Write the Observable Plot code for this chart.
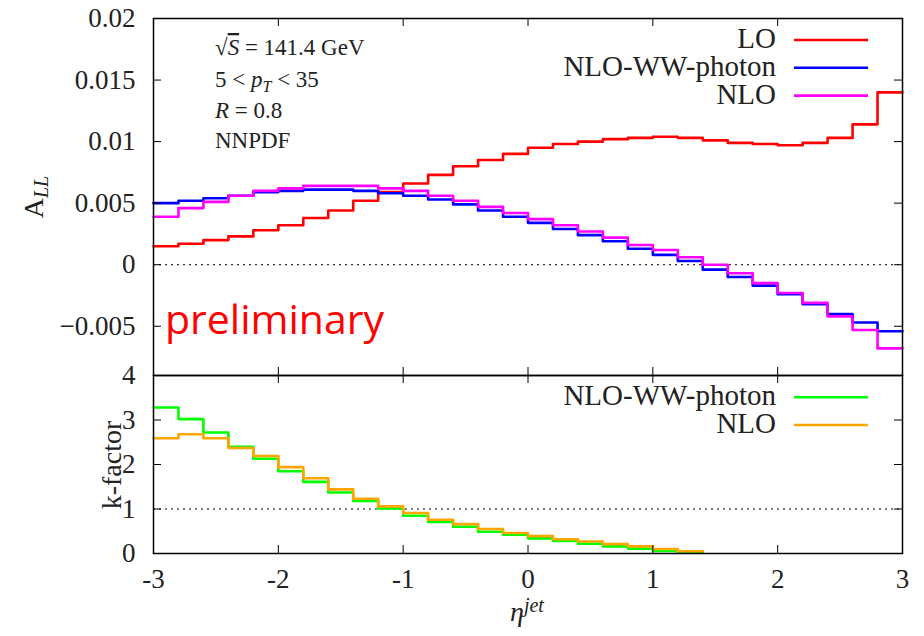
<!DOCTYPE html>
<html><head><meta charset="utf-8">
<script src="https://cdn.jsdelivr.net/npm/d3@7"></script>
<script src="https://cdn.jsdelivr.net/npm/@observablehq/plot@0.6"></script>
<style>
body{margin:0;background:#fff;}
#chart{position:relative;width:924px;height:636px;font-family:"Liberation Serif",serif;}
#chart svg{position:absolute;left:0;overflow:visible;}
</style></head><body><div id="chart"></div>
<script>
// bin edges in eta^jet
const binEdges = [-3,-2.8,-2.6,-2.4,-2.2,-2,-1.8,-1.6,-1.4,-1.2,-1,-0.8,-0.6,-0.4,-0.2,0,0.2,0.4,0.6,0.8,1,1.2,1.4,1.6,1.8,2,2.2,2.4,2.6,2.8,3];
// A_LL per bin
const allLO = [0.0015,0.0017,0.0020,0.0023,0.0028,0.0032,0.0038,0.0044,0.0052,0.0059,0.0066,0.0073,0.0080,0.0085,0.0090,0.0095,0.0098,0.0100,0.0102,0.0103,0.0104,0.0103,0.0101,0.0099,0.0098,0.0097,0.0099,0.0103,0.0114,0.0140];
const allNLOWW = [0.0050,0.0052,0.0054,0.0056,0.0059,0.0060,0.0061,0.0061,0.0060,0.0058,0.0056,0.0053,0.0049,0.0044,0.0039,0.0034,0.0029,0.0024,0.0019,0.0013,0.0008,0.0003,-0.0004,-0.0010,-0.0017,-0.0024,-0.0032,-0.0040,-0.0047,-0.0054];
const allNLO = [0.0039,0.0046,0.0051,0.0056,0.0060,0.0062,0.0064,0.0064,0.0064,0.0062,0.0060,0.0056,0.0052,0.0047,0.0042,0.0037,0.0032,0.0027,0.0022,0.0016,0.0012,0.0006,0.0000,-0.0007,-0.0015,-0.0023,-0.0031,-0.0042,-0.0053,-0.0068];
// k-factor per bin (bins up to eta = 1.4)
const kNLOWW = [3.28,3.02,2.72,2.40,2.13,1.85,1.61,1.37,1.18,1.01,0.85,0.71,0.60,0.49,0.42,0.34,0.28,0.22,0.16,0.11,0.06,0.02];
const kNLO = [2.59,2.68,2.59,2.37,2.19,1.94,1.69,1.44,1.23,1.06,0.91,0.76,0.66,0.55,0.46,0.39,0.32,0.27,0.21,0.16,0.10,0.05];
// ticks
const xTicks = [-3,-2,-1,0,1,2,3];
const yTicksTop = [-0.005,0,0.005,0.01,0.015,0.02];
const yTicksBottom = [0,1,2,3,4];
const topLegend = ["LO","NLO-WW-photon","NLO"];
const bottomLegend = ["NLO-WW-photon","NLO"];

function steps(edges, vals){
  const pts = vals.map((v,i)=>({x:edges[i], y:v}));
  pts.push({x:edges[vals.length], y:vals[vals.length-1]});
  return pts;
}
const W=924, ML=153, MR=22;
const PW=W-ML-MR;
const SERIF = "'Liberation Serif', serif";
const fmtTop = d => d===0 ? "0" : (d<0?"\u2212":"") + Math.abs(d);
const fmtX = d => (d<0?"-":"") + Math.abs(d);
const fmtInt = d => String(d);
const style = {fontFamily:SERIF, fontSize:"27px", background:"transparent", overflow:"visible"};
const chart = document.getElementById("chart");

// ---------- top panel ----------
const tH=376, tMT=18, tMB=1, tPH=tH-tMT-tMB;
const topPlot = Plot.plot({
  width:W, height:tH, marginLeft:ML, marginRight:MR, marginTop:tMT, marginBottom:tMB,
  x:{domain:[-3,3], label:null, axis:null}, y:{domain:[-0.009,0.02], label:null},
  style,
  marks:[
    Plot.ruleY([0],{stroke:"#000",strokeWidth:1,strokeDasharray:"2,4"}),
    Plot.line(steps(binEdges,allLO),{x:"x",y:"y",stroke:"#ff0000",strokeWidth:2.6,curve:"step-after"}),
    Plot.line(steps(binEdges,allNLOWW),{x:"x",y:"y",stroke:"#0000ff",strokeWidth:2.6,curve:"step-after"}),
    Plot.line(steps(binEdges,allNLO),{x:"x",y:"y",stroke:"#ff00ff",strokeWidth:2.6,curve:"step-after"}),
    Plot.tickY(yTicksTop,{y:d=>d, insetRight:PW-8, stroke:"#000"}),
    Plot.tickY(yTicksTop,{y:d=>d, insetLeft:PW-8, stroke:"#000"}),
    Plot.tickX(xTicks,{x:d=>d, insetBottom:tPH-8, stroke:"#000"}),
    Plot.tickX(xTicks,{x:d=>d, insetTop:tPH-8, stroke:"#000"}),
    Plot.axisY({ticks:yTicksTop, anchor:"left", tickSize:0, tickPadding:18, tickFormat:fmtTop, fontSize:27, fill:"#222", label:null}),
    Plot.frame({stroke:"#000", strokeWidth:1.5})
  ]
});
topPlot.style.top="0px";
chart.appendChild(topPlot);

// ---------- bottom panel ----------
const bTop=374, bH=262, bMT=1, bMB=83, bPH=bH-bMT-bMB;
const botPlot = Plot.plot({
  width:W, height:bH, marginLeft:ML, marginRight:MR, marginTop:bMT, marginBottom:bMB,
  x:{domain:[-3,3], label:null}, y:{domain:[0,4], label:null},
  style,
  marks:[
    Plot.ruleY([1],{stroke:"#000",strokeWidth:1,strokeDasharray:"2,4"}),
    Plot.line(steps(binEdges,kNLOWW),{x:"x",y:"y",stroke:"#00ff00",strokeWidth:2.6,curve:"step-after"}),
    Plot.line(steps(binEdges,kNLO),{x:"x",y:"y",stroke:"#ffa500",strokeWidth:2.6,curve:"step-after"}),
    Plot.tickY(yTicksBottom,{y:d=>d, insetRight:PW-8, stroke:"#000"}),
    Plot.tickY(yTicksBottom,{y:d=>d, insetLeft:PW-8, stroke:"#000"}),
    Plot.tickX(xTicks,{x:d=>d, insetBottom:bPH-8, stroke:"#000"}),
    Plot.tickX(xTicks,{x:d=>d, insetTop:bPH-8, stroke:"#000"}),
    Plot.axisY({ticks:yTicksBottom, anchor:"left", tickSize:0, tickPadding:18, tickFormat:fmtInt, fontSize:27, fill:"#222", label:null}),
    Plot.axisX({ticks:xTicks, anchor:"bottom", tickSize:0, tickPadding:15, tickFormat:fmtX, fontSize:27, fill:"#222", label:null}),
    Plot.frame({stroke:"#000", strokeWidth:1.5})
  ]
});
botPlot.style.top=bTop+"px";
chart.appendChild(botPlot);

const ts = d3.select(topPlot), bs = d3.select(botPlot);
// force serif font on the axis tick labels
ts.selectAll("text").style("font-family", SERIF);
bs.selectAll("text").style("font-family", SERIF);
ts.selectAll("g").style("font-family", SERIF);
bs.selectAll("g").style("font-family", SERIF);

// ---------- decorations ----------
const topColors = ["#ff0000","#0000ff","#ff00ff"];
const botColors = ["#00ff00","#ffa500"];
function legend(sel, names, colors, y0, gap){
  names.forEach((n,i)=>{
    const y=y0+i*gap;
    sel.append("text").attr("x",776).attr("y",y+8).attr("text-anchor","end")
      .style("font-family",SERIF).attr("font-size",29).attr("fill","#222").text(n);
    sel.append("line").attr("x1",794).attr("x2",868).attr("y1",y).attr("y2",y)
      .attr("stroke",colors[i]).attr("stroke-width",2.6);
  });
}
legend(ts, topLegend, topColors, 40, 27.8);
legend(bs, bottomLegend, botColors, 397.3-bTop, 27.7);

// annotations
const ann = ts.append("g").style("font-family",SERIF).attr("font-size",23).attr("fill","#222").attr("text-anchor","start");
const t1 = ann.append("text").attr("x",215).attr("y",55);
t1.append("tspan").text("\u221A");
t1.append("tspan").attr("font-style","italic").attr("text-decoration","overline").text("S");
t1.append("tspan").text(" = 141.4 GeV");
const t2 = ann.append("text").attr("x",215).attr("y",87);
t2.append("tspan").text("5 < ");
t2.append("tspan").attr("font-style","italic").text("p");
t2.append("tspan").attr("font-style","italic").attr("font-size",16).attr("dy",5).text("T");
t2.append("tspan").attr("dy",-5).text(" < 35");
const t3 = ann.append("text").attr("x",215).attr("y",118);
t3.append("tspan").attr("font-style","italic").text("R");
t3.append("tspan").text(" = 0.8");
ann.append("text").attr("x",215).attr("y",148).text("NNPDF");

// preliminary
ts.append("text").attr("x",165).attr("y",334).attr("text-anchor","start").style("font-family","'Open Sans', sans-serif")
  .attr("font-size",41).attr("fill","#ff0000").text("preliminary");

// y labels
const ya = ts.append("text").attr("transform","translate(43,197) rotate(-90)").attr("text-anchor","middle")
  .style("font-family",SERIF).attr("font-size",28).attr("fill","#222");
ya.append("tspan").text("A");
ya.append("tspan").attr("font-style","italic").attr("font-size",20).attr("dy",5).text("LL");
bs.append("text").attr("transform",`translate(121,${465-bTop}) rotate(-90)`).attr("text-anchor","middle")
  .style("font-family",SERIF).attr("font-size",28).attr("fill","#222").text("k-factor");
// x label
const xl = bs.append("text").attr("x",527).attr("y",621-bTop).attr("text-anchor","middle")
  .style("font-family",SERIF).attr("font-size",28).attr("fill","#222");
xl.append("tspan").attr("font-style","italic").text("\u03B7");
xl.append("tspan").attr("font-style","italic").attr("font-size",20).attr("dy",-9).text("jet");
</script></body></html>
